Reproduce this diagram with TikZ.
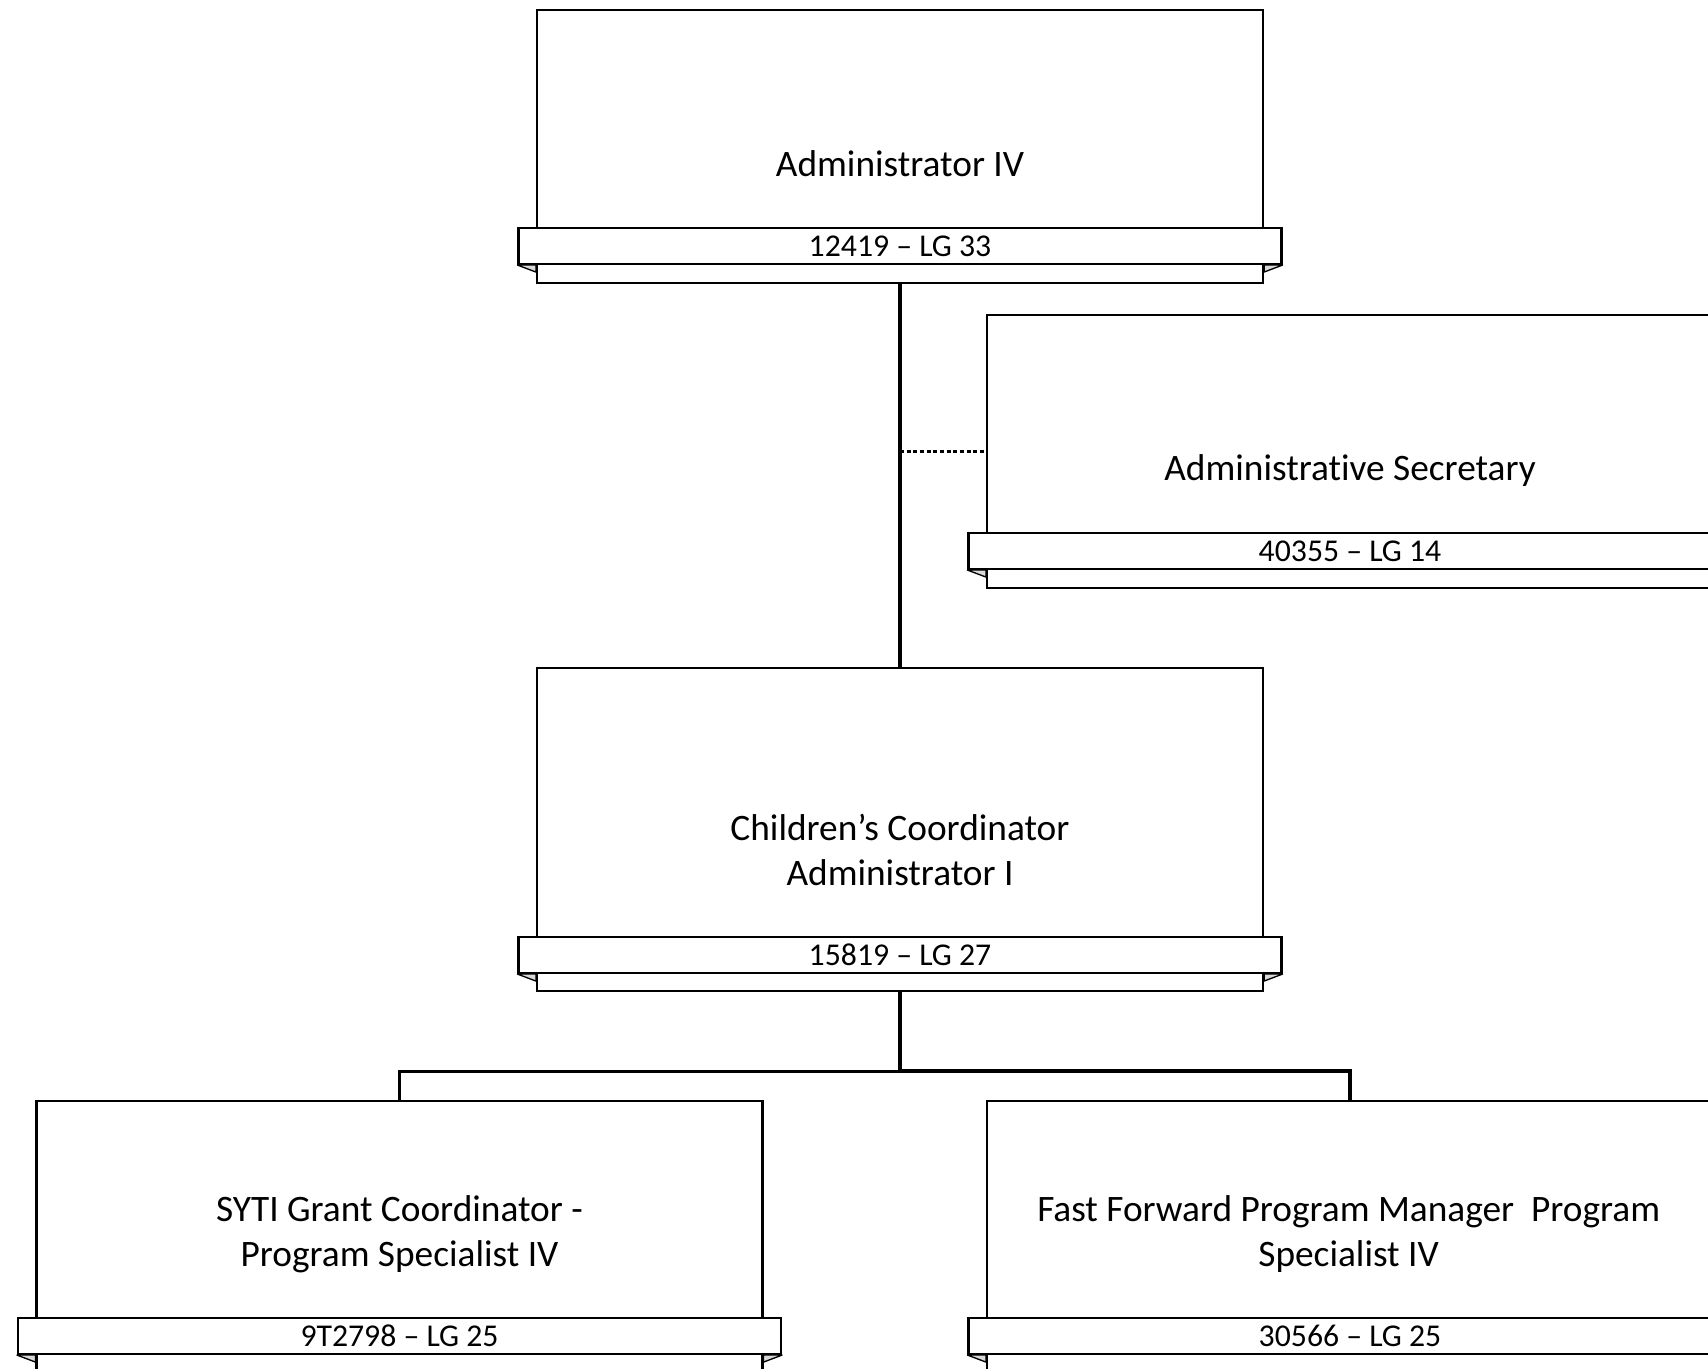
\documentclass[tikz,border=0pt]{standalone}
\usepackage{fontspec}
\setmainfont{Carlito}
\usetikzlibrary{calc}
\begin{document}
\begin{tikzpicture}[x=0.75pt,y=-0.75pt,
  box/.style={draw, line width=1.6pt, minimum width=544.5pt, minimum height=204.75pt, anchor=north, inner sep=0pt},
  ribbon/.style={draw, fill=white, line width=1.6pt, minimum width=572.25pt, minimum height=27pt, inner sep=0pt, font=\fontsize{23.8}{28}\selectfont},
  title/.style={font=\fontsize{28}{34}\selectfont, align=center, inner sep=0pt},
  conn/.style={line width=2.3pt},
  dotconn/.style={line width=1.8pt, dash pattern=on 3pt off 2pt},
  fold/.style={draw, fill=gray!30, line width=1pt, line join=round}]
\useasboundingbox (0,0) rectangle (1708,1369);
\fill[white] (0,0) rectangle (1708,1369);
\clip (0,0) rectangle (1708,1369);

% boxes
\node[box] (adm) at (900,9) {};
\node[box] (sec) at (1350,314) {};
\node[box, minimum height=242.25pt] (cc) at (900,667) {};
\node[box] (syti) at (399.5,1100) {};
\node[box] (ff) at (1350,1100) {};

% ribbons
\node[ribbon] (admr) at (900,246) {12419 – LG 33};
\node[ribbon] (secr) at (1350,551) {40355 – LG 14};
\node[ribbon] (ccr) at (900,955) {15819 – LG 27};
\node[ribbon] (sytir) at (399.5,1336) {9T2798 – LG 25};
\node[ribbon] (ffr) at (1350,1336) {30566 – LG 25};

% folds
\foreach \b/\r in {adm/admr, sec/secr, cc/ccr, syti/sytir, ff/ffr}{
  \path[fold] (\r.south west) -- ($(\b.west |- \r.south)+(0,7)$) -- (\b.west |- \r.south) -- cycle;
  \path[fold] (\r.south east) -- ($(\b.east |- \r.south)+(0,7)$) -- (\b.east |- \r.south) -- cycle;
}

% titles
\node[title] (admt) at (900,164) {Administrator IV};
\node[title] (sect) at (1350,471) {Administrat\kern0pt ive Secretary};
\node[title] (cct) at (900,850) {Children’s Coordinator\\Administrator I};
\node[title] (sytit) at (399.5,1234) {SYTI Grant Coordinator -\\Program Specialist IV};
\node[title] (fft) at (1348.6,1234) {Fast Forward Program Manager~ Program\\Specialist IV};

% connectors
\draw[conn] (adm.south) -- (cc.north);
\draw[dotconn] (adm.south |- sec.west) -- (sec.west);
\draw[conn] (cc.south) -- ++(0,79) -| (syti.north);
\draw[conn] (cc.south) |- ($(ff.north)+(0,-29)$) -- (ff.north);
\end{tikzpicture}
\end{document}
